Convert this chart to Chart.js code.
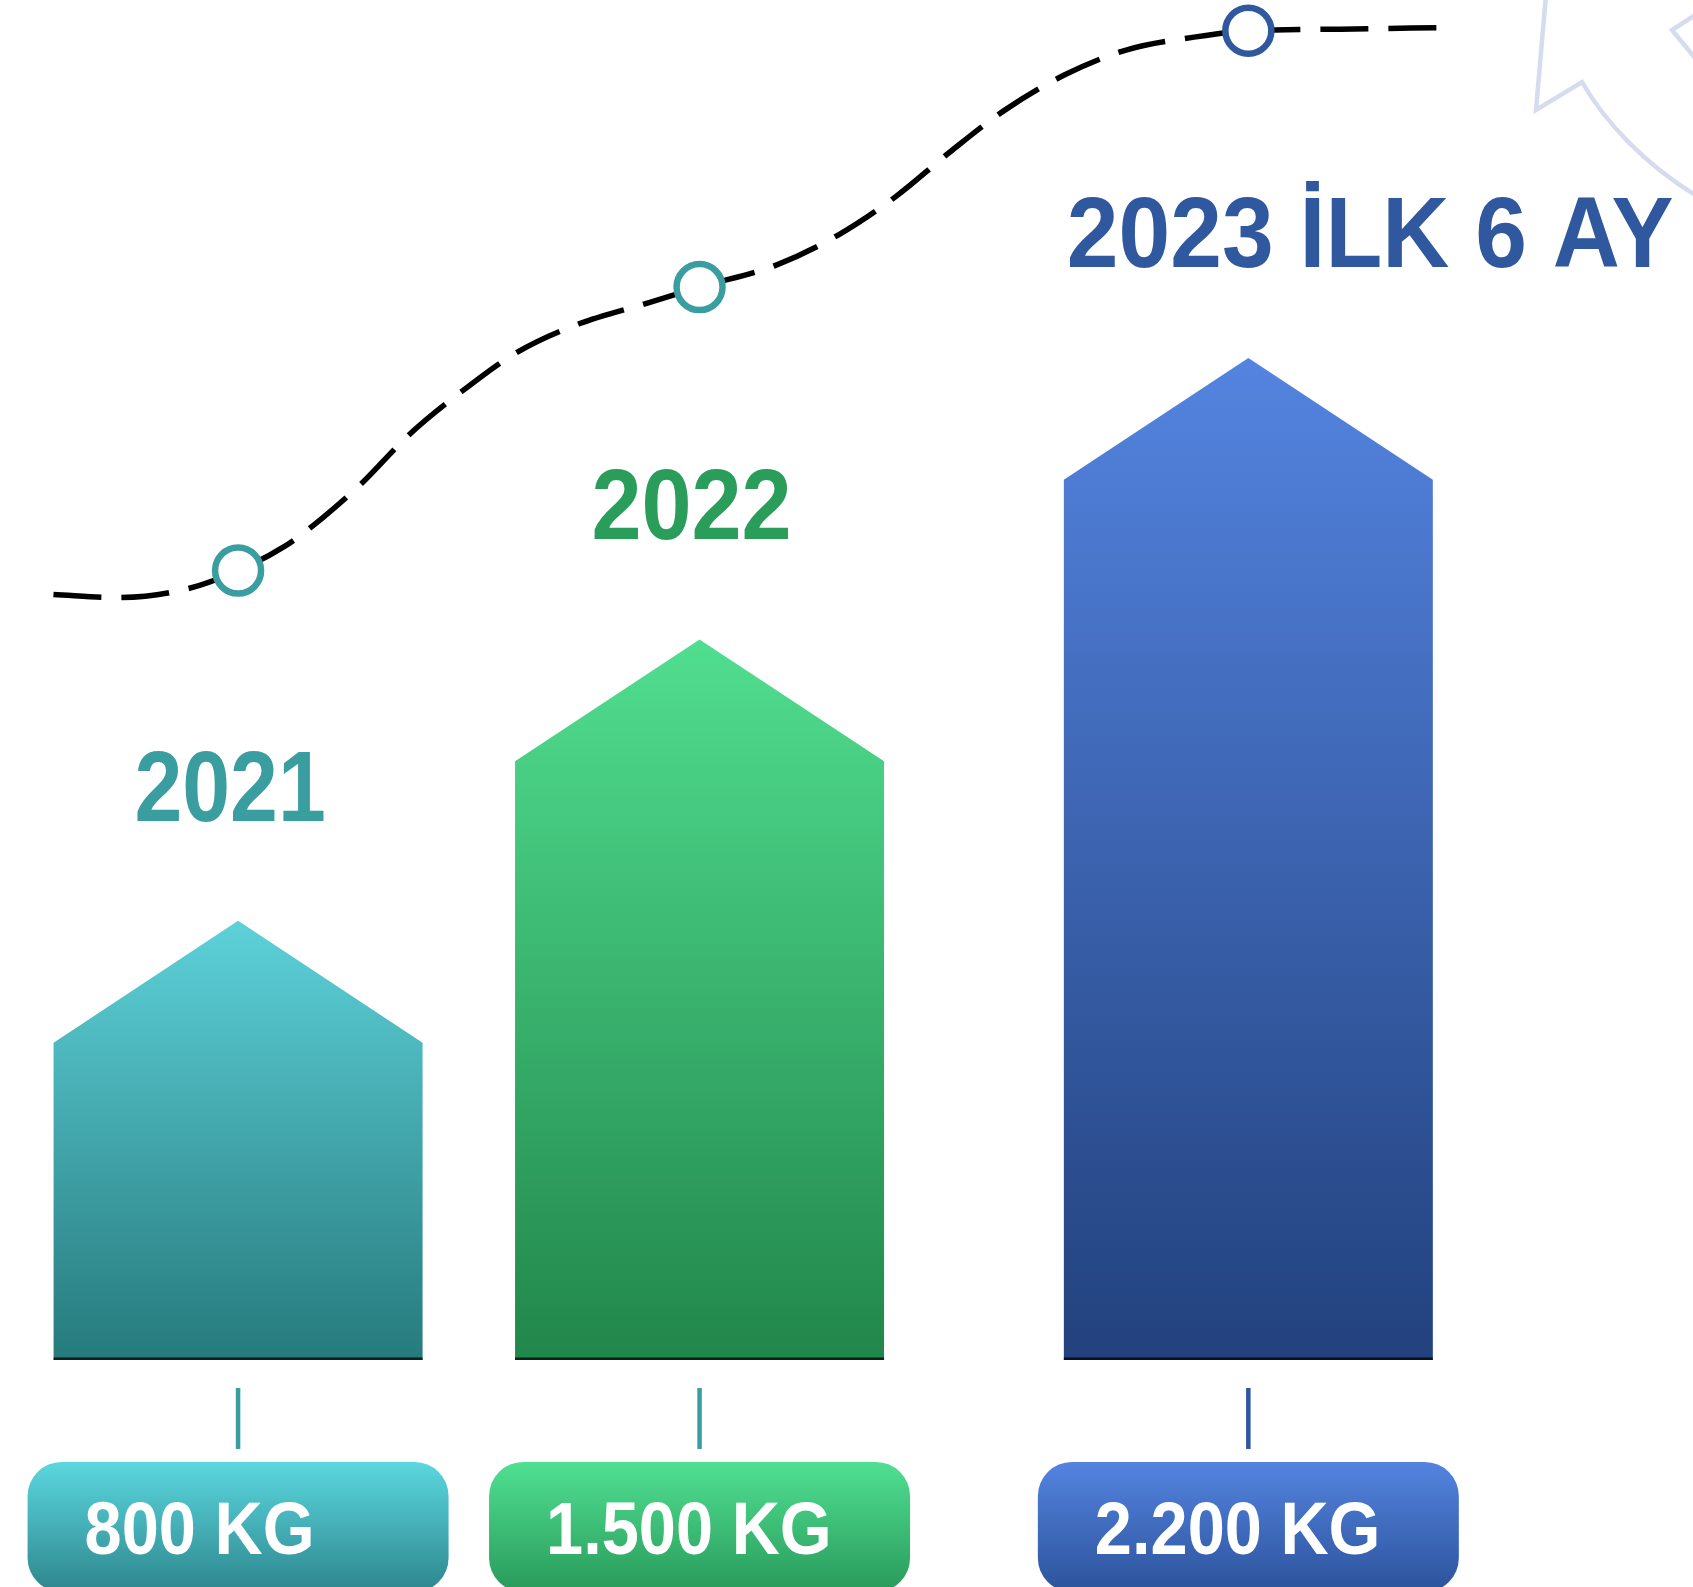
<!DOCTYPE html>
<html><head><meta charset="utf-8">
<script src="https://cdn.jsdelivr.net/npm/chart.js@4.4.0/dist/chart.umd.min.js"></script>
<style>html,body{margin:0;padding:0;background:#fff;overflow:hidden}canvas{display:block}</style>
</head><body>
<canvas id="c" width="1693" height="1587"></canvas>
<script>
// ---- data ----
const years = ['2021', '2022', '2023 İLK 6 AY'];
const amountsKg = [800, 1500, 2200];
const amountLabels = ['800 KG', '1.500 KG', '2.200 KG'];
// trend curve (x: % of width, y: % of height from bottom)
const trendX = [3.31, 7.03, 10.99, 14.18, 16.89, 19.14, 21.38, 24.22, 27.29, 30.60, 34.26, 38.28, 41.35, 45.90, 49.56, 52.92, 56.11, 59.30, 62.79, 66.51, 70.47, 73.66, 79.09, 85.35];
const trendY = [62.5, 62.3, 62.8, 64.0, 65.5, 67.3, 69.4, 72.5, 75.2, 77.7, 79.5, 80.8, 81.8, 83.2, 85.1, 87.5, 90.3, 92.9, 95.1, 96.7, 97.5, 97.9, 98.0, 98.1];

// ---- layout / style ----
const barSlots = [14.18, 41.35, 73.66];
const BAR_BASE = -292;
const STYLE = {
  barTop: ['#5dd1d9', '#51de90', '#5484e0'],
  barBottom: ['#267a7c', '#21864b', '#22417d'],
  boxTop: ['#5bd7df', '#50e092', '#5484e0'],
  boxBottom: ['#2e868d', '#299a5a', '#2c539b'],
  yearColor: ['#3a9ea0', '#2b9d5b', '#30589e'],
  yearAlign: ['center', 'center', 'left'],
  yearScale: [0.86, 0.9, 0.93],
  yearLift: [100, 100, 91],
  connector: ['#3a9ea0', '#3a9ea0', '#2f56a0'],
  marker: ['#3a9ea0', '#3a9ea0', '#30589e']
};

const decoPlugin = {
  id: 'deco',
  beforeDraw(chart) {
    const ctx = chart.ctx;
    ctx.save();
    ctx.fillStyle = '#fff';
    ctx.fillRect(0, 0, chart.width, chart.height);
    ctx.strokeStyle = '#d6dcef';
    ctx.lineWidth = 4.5;
    ctx.beginPath();
    ctx.moveTo(1546, -5);
    ctx.lineTo(1536, 110);
    ctx.lineTo(1582, 82);
    ctx.bezierCurveTo(1605, 122, 1645, 165, 1700, 198);
    ctx.stroke();
    ctx.beginPath();
    ctx.moveTo(1700, 12);
    ctx.lineTo(1672, 30);
    ctx.lineTo(1700, 64);
    ctx.stroke();
    ctx.restore();
  }
};

const housePlugin = {
  id: 'house',
  beforeDatasetsDraw(chart) {
    const ctx = chart.ctx;
    const meta = chart.getDatasetMeta(0);
    meta.data.forEach((bar, i) => {
      const {x, y, base, width} = bar.getProps(['x', 'y', 'base', 'width'], true);
      const l = x - width / 2, r = x + width / 2;
      const sh = y + width * 0.33;
      const g = ctx.createLinearGradient(0, y, 0, base);
      g.addColorStop(0, STYLE.barTop[i]);
      g.addColorStop(1, STYLE.barBottom[i]);
      ctx.save();
      ctx.beginPath();
      ctx.moveTo(l, base); ctx.lineTo(l, sh); ctx.lineTo(x, y); ctx.lineTo(r, sh); ctx.lineTo(r, base);
      ctx.closePath();
      ctx.fillStyle = g;
      ctx.fill();
      ctx.fillStyle = 'rgba(0,0,0,0.75)';
      ctx.fillRect(l, base - 2.5, width, 2.5);

      // connector
      ctx.strokeStyle = STYLE.connector[i];
      ctx.lineWidth = 4.5;
      ctx.beginPath();
      ctx.moveTo(x, base + 28); ctx.lineTo(x, base + 89);
      ctx.stroke();

      // value box
      const bw = width + 52, bl = x - bw / 2, bt = base + 102, bh = 130;
      const bg = ctx.createLinearGradient(0, bt, 0, bt + bh);
      bg.addColorStop(0, STYLE.boxTop[i]);
      bg.addColorStop(1, STYLE.boxBottom[i]);
      ctx.fillStyle = bg;
      ctx.beginPath();
      ctx.roundRect(bl, bt, bw, bh, 34);
      ctx.fill();

      ctx.fillStyle = '#fff';
      ctx.font = 'bold 75px "Liberation Sans", Arial, sans-serif';
      ctx.textBaseline = 'alphabetic';
      ctx.textAlign = 'left';
      ctx.translate(bl + 57, bt + 92);
      ctx.scale(0.89, 1);
      ctx.fillText(amountLabels[i], 0, 0);
      ctx.restore();

      // year label
      ctx.save();
      ctx.fillStyle = STYLE.yearColor[i];
      ctx.font = 'bold 100px "Liberation Sans", Arial, sans-serif';
      ctx.textBaseline = 'alphabetic';
      ctx.textAlign = STYLE.yearAlign[i];
      const ax = STYLE.yearAlign[i] === 'left' ? l + 3 : x - 8;
      ctx.translate(ax, y - STYLE.yearLift[i]);
      ctx.scale(STYLE.yearScale[i], 1);
      ctx.fillText(years[i], 0, 0);
      ctx.restore();
    });
  }
};

const markerIndex = x => barSlots.indexOf(x);

new Chart(document.getElementById('c'), {
  type: 'bar',
  data: {
    datasets: [
      {
        type: 'bar',
        label: 'KG',
        data: barSlots.map((x, i) => ({x, y: amountsKg[i]})),
        base: BAR_BASE,
        barThickness: 369,
        backgroundColor: 'rgba(0,0,0,0)',
        borderWidth: 0,
        yAxisID: 'y',
        order: 2
      },
      {
        type: 'line',
        label: 'trend',
        data: trendX.map((x, i) => ({x, y: trendY[i]})),
        borderColor: '#000',
        borderWidth: 5.5,
        borderDash: [48, 20],
        cubicInterpolationMode: 'monotone',
        fill: false,
        pointRadius: c => markerIndex(trendX[c.dataIndex]) >= 0 ? 23 : 0,
        pointBorderWidth: 6.5,
        pointBackgroundColor: '#fff',
        pointBorderColor: c => STYLE.marker[Math.max(0, markerIndex(trendX[c.dataIndex]))],
        yAxisID: 'y2',
        order: 1
      }
    ]
  },
  options: {
    responsive: false,
    devicePixelRatio: 1,
    animation: false,
    layout: {padding: 0},
    plugins: {legend: {display: false}, tooltip: {enabled: false}},
    scales: {
      x: {type: 'linear', min: 0.163, max: 99.84, offset: false, display: false},
      y: {type: 'linear', min: -856.6, max: 3090.1, display: false},
      y2: {type: 'linear', min: 0.173, max: 99.83, display: false}
    }
  },
  plugins: [decoPlugin, housePlugin]
});
</script>
</body></html>
